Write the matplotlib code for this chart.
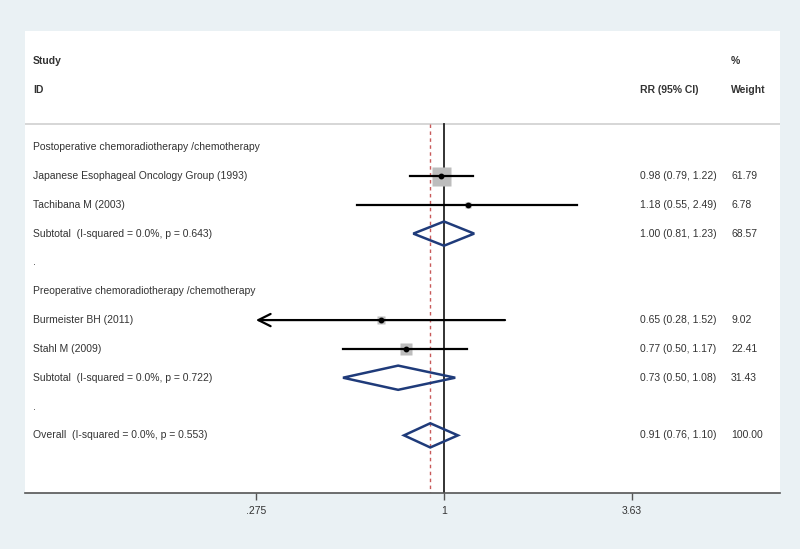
import numpy as np
import matplotlib.pyplot as plt
from matplotlib.patches import Polygon

plt.rcParams['font.family'] = ['Liberation Sans', 'DejaVu Sans']

# study rows (row index counted from the top)
labels = ['Postoperative chemoradiotherapy /chemotherapy',
          'Japanese Esophageal Oncology Group (1993)',
          'Tachibana M (2003)',
          'Subtotal  (I-squared = 0.0%, p = 0.643)',
          '.',
          'Preoperative chemoradiotherapy /chemotherapy',
          'Burmeister BH (2011)',
          'Stahl M (2009)',
          'Subtotal  (I-squared = 0.0%, p = 0.722)',
          '.',
          'Overall  (I-squared = 0.0%, p = 0.553)']

study_rows = [1, 2, 6, 7]
study_rr = [0.98, 1.18, 0.65, 0.77]
study_lo = [0.79, 0.55, 0.28, 0.50]
study_hi = [1.22, 2.49, 1.52, 1.17]
study_w = [61.79, 6.78, 9.02, 22.41]

pool_rows = [3, 8, 10]
pool_rr = [1.00, 0.73, 0.91]
pool_lo = [0.81, 0.50, 0.76]
pool_hi = [1.23, 1.08, 1.10]
pool_w = [68.57, 31.43, 100.00]

xticks = [0.275, 1, 3.63]
xtick_labels = ['.275', '1', '3.63']

txt = '#333333'
bg = '#eaf1f4'

fig = plt.figure(figsize=(8, 5.49), dpi=100, facecolor=bg)
ax = fig.add_axes([25 / 800, 56 / 549, 755 / 800, 462 / 549])
ax.set_facecolor('white')
ax.set_xscale('log')
ax.set_xlim(0.0564, 10.03)
ax.set_ylim(12.0, -4.03)

for s in ['top', 'left', 'right']:
    ax.spines[s].set_visible(False)
ax.spines['bottom'].set_color('#555555')
ax.spines['bottom'].set_linewidth(1.2)
ax.set_yticks([])
ax.minorticks_off()
ax.set_xticks(xticks)
ax.set_xticklabels(xtick_labels)
ax.tick_params(axis='x', length=5, width=1, color='#555555', labelsize=7.5,
               labelcolor=txt, pad=4)

# header separator
ax.axhline(-0.8, color='#cfcfcf', lw=1.2)

# null line and overall estimate line
ax.plot([1, 1], [-0.8, 12.0], color='#222222', lw=1.3, zorder=2)
ax.plot([pool_rr[-1], pool_rr[-1]], [-0.8, 12.0], color='#c85a5a', lw=1.0,
        ls=(0, (2.5, 2.5)), zorder=2)

# individual studies
axis_min = xticks[0]
for r, est, lo, hi, w in zip(study_rows, study_rr, study_lo, study_hi, study_w):
    side = 19 * np.sqrt(w / max(study_w)) * 0.72
    ax.plot(est, r, marker='s', ms=side, color='#bdbdbd', mec='none', zorder=3)
    if lo < axis_min * 1.03:
        ax.annotate('', xy=(axis_min, r), xytext=(hi, r),
                    arrowprops=dict(arrowstyle='->', lw=1.6, color='black',
                                    mutation_scale=22, shrinkA=0, shrinkB=0),
                    zorder=4)
    else:
        ax.plot([lo, hi], [r, r], color='black', lw=1.6, zorder=4)
    ax.plot(est, r, marker='o', ms=3.2, color='black', zorder=5)

# pooled diamonds
for r, est, lo, hi in zip(pool_rows, pool_rr, pool_lo, pool_hi):
    h = 0.42
    d = Polygon([[lo, r], [est, r - h], [hi, r], [est, r + h]], closed=True,
                fill=False, ec='#1f3b7a', lw=1.8, zorder=5)
    ax.add_patch(d)

# text columns
tr = ax.get_yaxis_transform()
x_left = 8 / 755
x_rr = 615 / 755
x_w = 706 / 755
fs = 7.5
ax.text(x_left, -3, 'Study', transform=tr, fontsize=fs, color=txt,
        va='center', fontweight='bold')
ax.text(x_left, -2, 'ID', transform=tr, fontsize=fs, color=txt,
        va='center', fontweight='bold')
ax.text(x_w, -3, '%', transform=tr, fontsize=fs, color=txt,
        va='center', fontweight='bold')
ax.text(x_rr, -2, 'RR (95% CI)', transform=tr, fontsize=fs, color=txt,
        va='center', fontweight='bold')
ax.text(x_w, -2, 'Weight', transform=tr, fontsize=fs, color=txt,
        va='center', fontweight='bold')

for i, lab in enumerate(labels):
    ax.text(x_left, i, lab, transform=tr, fontsize=fs, color=txt, va='center')

for r, est, lo, hi, w in zip(study_rows + pool_rows, study_rr + pool_rr,
                             study_lo + pool_lo, study_hi + pool_hi,
                             study_w + pool_w):
    ax.text(x_rr, r, f'{est:.2f} ({lo:.2f}, {hi:.2f})', transform=tr,
            fontsize=fs, color=txt, va='center')
    ax.text(x_w, r, f'{w:.2f}', transform=tr, fontsize=fs, color=txt,
            va='center')

fig.savefig('out.png', dpi=100, facecolor=bg)
